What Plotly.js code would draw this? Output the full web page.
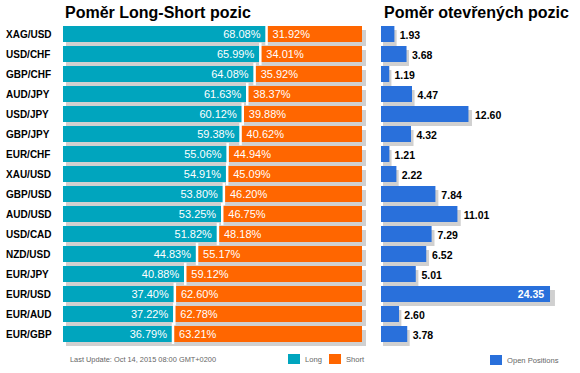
<!DOCTYPE html>
<html>
<head>
<meta charset="utf-8">
<script src="https://cdn.plot.ly/plotly-3.0.1.min.js"></script>
<style>html,body{margin:0;padding:0;background:#fff;}#chart{width:580px;height:373px;}</style>
</head>
<body>
<div id="chart"></div>
<script>
// ---- data ----
const pairs = ["XAG/USD","USD/CHF","GBP/CHF","AUD/JPY","USD/JPY","GBP/JPY","EUR/CHF","XAU/USD","GBP/USD","AUD/USD","USD/CAD","NZD/USD","EUR/JPY","EUR/USD","EUR/AUD","EUR/GBP"];
const longPct = [68.08,65.99,64.08,61.63,60.12,59.38,55.06,54.91,53.80,53.25,51.82,44.83,40.88,37.40,37.22,36.79];
const shortPct = [31.92,34.01,35.92,38.37,39.88,40.62,44.94,45.09,46.20,46.75,48.18,55.17,59.12,62.60,62.78,63.21];
const openPos = [1.93,3.68,1.19,4.47,12.60,4.32,1.21,2.22,7.84,11.01,7.29,6.52,5.01,24.35,2.60,3.78];
const titleLeft = "Poměr Long-Short pozic";
const titleRight = "Poměr otevřených pozic";
const footnote = "Last Update: Oct 14, 2015 08:00 GMT+0200";
const legendNames = ["Long","Short","Open Positions"];

// ---- style ----
const W = 580, H = 373;
const px = v => v / W;
const py = v => 1 - v / H;
const FONT = "Arial, 'Liberation Sans', sans-serif";
const C = {long:"#00a5be", short:"#ff6600", open:"#2970db", shadow:"#d0d0d0"};
const NB = "\u00a0";

const idx = pairs.map((_, i) => i);
const rowTotal = longPct.map((v, i) => v + shortPct[i]);
const openMax = Math.max(...openPos);
const insideOpen = v => v === openMax;

const traces = [
  { type:"bar", orientation:"h", x:rowTotal, y:idx, xaxis:"x", yaxis:"y",
    marker:{color:C.shadow}, hoverinfo:"skip" },
  { type:"bar", orientation:"h", x:longPct, y:idx, xaxis:"x2", yaxis:"y2",
    marker:{color:C.long}, text:longPct.map(v => v.toFixed(2) + "%" + NB),
    textposition:"inside", insidetextanchor:"end", textangle:0, constraintext:"none",
    textfont:{color:"#fff", size:11, family:FONT}, hoverinfo:"skip" },
  { type:"bar", orientation:"h", x:shortPct, base:longPct, y:idx, xaxis:"x2", yaxis:"y2",
    marker:{color:C.short}, text:shortPct.map(v => NB + v.toFixed(2) + "%"),
    textposition:"inside", insidetextanchor:"start", textangle:0, constraintext:"none",
    textfont:{color:"#fff", size:11, family:FONT}, hoverinfo:"skip" },
  { type:"scatter", mode:"markers", x:longPct, y:idx, xaxis:"x2", yaxis:"y2",
    marker:{symbol:"line-ns", size:16, line:{color:"#fff", width:2.5}}, hoverinfo:"skip" },
  { type:"bar", orientation:"h", x:openPos, y:idx, xaxis:"x3", yaxis:"y3",
    marker:{color:C.shadow}, hoverinfo:"skip" },
  { type:"bar", orientation:"h", x:openPos, y:idx, xaxis:"x4", yaxis:"y4",
    marker:{color:C.open}, text:openPos.map(v => insideOpen(v) ? v.toFixed(2) + NB : ""),
    textposition:"inside", insidetextanchor:"end", textangle:0, constraintext:"none",
    textfont:{color:"#fff", size:10.5, family:FONT, weight:"bold"}, hoverinfo:"skip" },
  { type:"bar", orientation:"h", x:openPos, y:idx, xaxis:"x5", yaxis:"y5",
    marker:{color:"rgba(0,0,0,0)"}, text:openPos.map(v => insideOpen(v) ? "" : v.toFixed(2)),
    textposition:"outside", textangle:0, cliponaxis:false,
    textfont:{color:"#000", size:10.5, family:FONT, weight:"bold"}, hoverinfo:"skip" }
];

const n = pairs.length;
const yRange = [n - 0.5, -0.5];
const hid = {visible:false, fixedrange:true, showgrid:false, zeroline:false};
const openRange = 27.23;

const annotations = [];
pairs.forEach((p, i) => annotations.push({
  xref:"paper", yref:"y2", x:px(4), y:i, xanchor:"left", yanchor:"middle",
  text:p, showarrow:false, font:{family:FONT, size:10, color:"#000", weight:"bold"}
}));
annotations.push({xref:"paper", yref:"paper", x:px(63), y:py(12.5), xanchor:"left", yanchor:"middle",
  text:titleLeft, showarrow:false, font:{family:FONT, size:16, color:"#000", weight:"bold"}});
annotations.push({xref:"paper", yref:"paper", x:px(382), y:py(12.5), xanchor:"left", yanchor:"middle",
  text:titleRight, showarrow:false, font:{family:FONT, size:16, color:"#000", weight:"bold"}});
annotations.push({xref:"paper", yref:"paper", x:px(68), y:py(359), xanchor:"left", yanchor:"middle",
  text:footnote, showarrow:false, font:{family:FONT, size:7.4, color:"#666"}});

const legendPos = [
  {sx:288, tx:303, y:359, color:C.long},
  {sx:329, tx:344, y:359, color:C.short},
  {sx:490, tx:505, y:360, color:C.open}
];
const shapes = [];
legendNames.forEach((name, i) => {
  const L = legendPos[i];
  shapes.push({type:"rect", xref:"paper", yref:"paper", x0:px(L.sx), x1:px(L.sx + 12),
    y0:py(L.y + 5), y1:py(L.y - 5), fillcolor:L.color, line:{width:0}});
  annotations.push({xref:"paper", yref:"paper", x:px(L.tx), y:py(L.y), xanchor:"left", yanchor:"middle",
    text:name, showarrow:false, font:{family:FONT, size:7.6, color:"#666"}});
});

const layout = {
  width:W, height:H, margin:{l:0, r:0, t:0, b:0, pad:0},
  paper_bgcolor:"#fff", plot_bgcolor:"rgba(0,0,0,0)",
  showlegend:false, barmode:"overlay", bargap:0.2,
  font:{family:FONT},
  xaxis: Object.assign({domain:[px(66), px(366)], range:[0,100], anchor:"y"}, hid),
  yaxis: Object.assign({domain:[py(348), py(28)], range:yRange, anchor:"x"}, hid),
  xaxis2: Object.assign({domain:[px(63), px(362)], range:[0,100], anchor:"y2"}, hid),
  yaxis2: Object.assign({domain:[py(344), py(24)], range:yRange, anchor:"x2"}, hid),
  xaxis3: Object.assign({domain:[px(383), px(575.3)], range:[0,openRange], anchor:"y3"}, hid),
  yaxis3: Object.assign({domain:[py(348), py(28)], range:yRange, anchor:"x3"}, hid),
  xaxis4: Object.assign({domain:[px(381), px(570)], range:[0,openRange], anchor:"y4"}, hid),
  yaxis4: Object.assign({domain:[py(344), py(24)], range:yRange, anchor:"x4"}, hid),
  xaxis5: Object.assign({domain:[px(383), px(575.3)], range:[0,openRange], anchor:"y5"}, hid),
  yaxis5: Object.assign({domain:[py(344.5), py(24.5)], range:yRange, anchor:"x5"}, hid),
  annotations, shapes
};

Plotly.newPlot("chart", traces, layout, {staticPlot:true, displayModeBar:false});
</script>
</body>
</html>
